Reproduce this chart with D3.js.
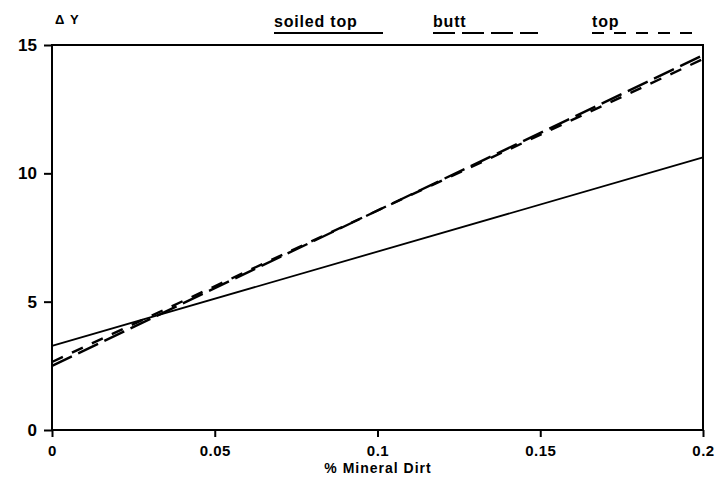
<!DOCTYPE html>
<html>
<head>
<meta charset="utf-8">
<script src="https://cdn.jsdelivr.net/npm/d3@7"></script>
<style>
  body { margin: 0; background: #fff; }
  text { font-family: "Liberation Sans", Arial, sans-serif; font-weight: bold; fill: #000; }
</style>
</head>
<body>
<svg class="dirtChart"></svg>
<script>
// values
const xTicks = [0, 0.05, 0.1, 0.15, 0.2]
const xTickLabels = ['0', '0.05', '0.1', '0.15', '0.2']
const yTicks = [0, 5, 10, 15]
const seriesNames = ['soiled top', 'butt', 'top']
const soiledTop = [[0, 3.28], [0.2, 10.62]]
const butt = [[0, 2.5], [0.2, 14.6]]
const top_ = [[0, 2.65], [0.2, 14.45]]

const W = 717, H = 484
const margin = { left: 52, right: 14, top: 45, bottom: 54 }

const svg = d3.select('svg.dirtChart')
    .attr('width', W)
    .attr('height', H)

const x = d3.scaleLinear().domain([0, 0.2]).range([margin.left, W - margin.right])
const y = d3.scaleLinear().domain([0, 15]).range([H - margin.bottom, margin.top])

const line = d3.line().x(d => x(d[0])).y(d => y(d[1]))

function drawAxes(svg) {
    // frame
    svg.append('rect')
        .attr('x', x(0)).attr('y', y(15))
        .attr('width', x(0.2) - x(0)).attr('height', y(0) - y(15))
        .attr('fill', 'none').attr('stroke', '#000').attr('stroke-width', 2)

    const xAxis = svg.append('g')
        .attr('transform', `translate(0,${y(0)})`)
        .call(d3.axisBottom(x).tickValues(xTicks).tickSize(7).tickFormat((d, i) => xTickLabels[i]))
    xAxis.select('.domain').remove()
    xAxis.selectAll('line').attr('stroke-width', 2)
    xAxis.selectAll('text').attr('font-size', 15).attr('dy', '1.05em').attr('letter-spacing', 0.5)

    const yAxis = svg.append('g')
        .attr('transform', `translate(${x(0)},0)`)
        .call(d3.axisLeft(y).tickValues(yTicks).tickSize(8))
    yAxis.select('.domain').remove()
    yAxis.selectAll('line').attr('stroke-width', 2)
    yAxis.selectAll('text').attr('font-size', 17).attr('x', -15)

    svg.append('text')
        .attr('x', 378).attr('y', 473)
        .attr('text-anchor', 'middle').attr('font-size', 14)
        .attr('letter-spacing', 1)
        .text('% Mineral Dirt')

    svg.append('text')
        .attr('x', 55).attr('y', 24)
        .attr('font-size', 13)
        .attr('letter-spacing', 1)
        .text('\u0394 Y')
}

const dashes = ['none', '22,7', '12,10']
const data = [soiledTop, butt, top_]

function drawLines(svg) {
    svg.append('g')
        .selectAll('path')
        .data(data)
        .join('path')
        .attr('d', line)
        .attr('fill', 'none')
        .attr('stroke', '#000')
        .attr('stroke-width', (d, i) => i === 0 ? 1.8 : 2.4)
        .attr('stroke-dasharray', (d, i) => dashes[i])
}

function drawLegend(svg) {
    const lx = [274, 433, 592]
    const lEnd = [383, 538, 692]
    const g = svg.append('g')
    seriesNames.forEach((name, i) => {
        g.append('text')
            .attr('x', lx[i]).attr('y', 27)
            .attr('font-size', 16)
            .attr('letter-spacing', 0.8)
            .text(name)
        g.append('line')
            .attr('x1', lx[i]).attr('x2', lEnd[i])
            .attr('y1', 33).attr('y2', 33)
            .attr('stroke', '#000').attr('stroke-width', 2)
            .attr('stroke-dasharray', dashes[i])
    })
}

drawLines(svg)
drawAxes(svg)
drawLegend(svg)
</script>
</body>
</html>
